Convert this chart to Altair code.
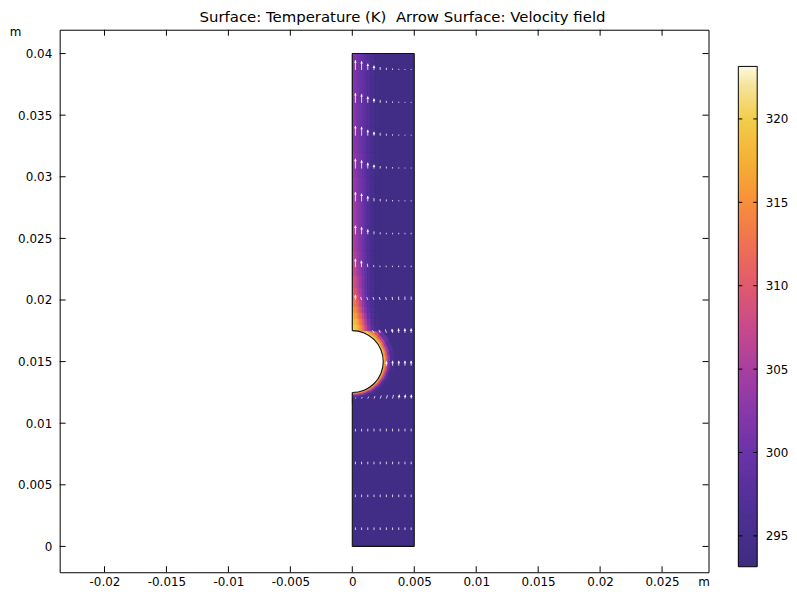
import math
import altair as alt
import numpy as np
import pandas as pd

title_text = "Surface: Temperature (K)\u00a0 Arrow Surface: Velocity field"

# ---------------- axes ----------------
x_ticks = [-0.02, -0.015, -0.01, -0.005, 0, 0.005, 0.01, 0.015, 0.02, 0.025]
y_ticks = [0, 0.005, 0.01, 0.015, 0.02, 0.025, 0.03, 0.035, 0.04]
cb_ticks = [295, 300, 305, 310, 315, 320]
x_domain = [-0.023617, 0.028749]
y_domain = [-0.0020968, 0.041935]

# ---------------- geometry (m) ----------------
channel_width = 0.005
channel_height = 0.04
cyl_center_y = 0.015
cyl_radius = 0.0025

# ---------------- temperatures (K) ----------------
T_min = 293.15
T_max = 323.15
T_bulk = 294.0

color_stops = [293.15, 295, 297.5, 300, 302.5, 305, 307.5, 310, 312.5, 315, 317.5, 320, 322, 323.15]
color_hex = ['#3d2c80', '#462f8c', '#55309b', '#6b33a8', '#8838aa', '#a93f9f', '#c84a8a',
             '#e05a6e', '#ef7152', '#f78f3a', '#f5b135', '#f2cd4c', '#f5e49a', '#fdf8df']

# plume above the cylinder: cell edges and temperatures (rows bottom -> top)
plume_x_edges = [0, 0.00015, 0.0003, 0.00045, 0.0006, 0.0008, 0.001, 0.0012, 0.0015, 0.0018, 0.0022]
plume_y_edges = [0.0175, 0.018, 0.0185, 0.019, 0.0195, 0.02, 0.0205, 0.021, 0.022, 0.023, 0.024,
                 0.026, 0.028, 0.030, 0.032, 0.034, 0.036, 0.038, 0.040]
plume_T = [
    [320.5, 320.0, 319.0, 317.5, 315.0, 311.5, 307.5, 302.5, 298.0, 295.0],
    [319.5, 318.5, 317.5, 315.5, 313.0, 309.5, 305.5, 301.0, 297.0, 294.6],
    [318.0, 317.0, 315.5, 313.5, 311.0, 307.5, 303.5, 299.5, 296.3, 294.4],
    [316.0, 315.0, 313.5, 311.5, 308.5, 305.0, 301.5, 298.5, 295.8, 294.2],
    [314.0, 313.0, 311.5, 309.5, 306.5, 303.5, 300.5, 298.0, 295.5, 294.1],
    [312.5, 311.5, 310.0, 308.0, 305.5, 302.5, 300.0, 297.5, 295.3, 294.0],
    [311.0, 310.0, 308.5, 306.5, 304.5, 302.0, 299.5, 297.2, 295.2, 294.0],
    [309.5, 308.5, 307.0, 305.5, 303.5, 301.5, 299.2, 297.0, 295.1, 294.0],
    [308.0, 307.0, 305.5, 304.3, 302.8, 301.0, 299.0, 296.8, 295.0, 294.0],
    [307.0, 306.0, 304.8, 303.6, 302.3, 300.7, 298.8, 296.7, 295.0, 294.0],
    [306.0, 305.0, 304.0, 303.0, 301.8, 300.4, 298.6, 296.6, 295.0, 294.0],
    [305.0, 304.2, 303.3, 302.4, 301.3, 300.1, 298.5, 296.6, 295.0, 294.0],
    [304.2, 303.5, 302.7, 301.9, 300.9, 299.8, 298.4, 296.6, 295.1, 294.0],
    [303.6, 303.0, 302.3, 301.5, 300.6, 299.6, 298.3, 296.7, 295.2, 294.1],
    [303.1, 302.5, 301.9, 301.2, 300.4, 299.4, 298.2, 296.7, 295.3, 294.1],
    [302.7, 302.2, 301.6, 300.9, 300.2, 299.3, 298.1, 296.8, 295.4, 294.2],
    [302.4, 301.9, 301.3, 300.7, 300.0, 299.1, 298.0, 296.8, 295.4, 294.2],
    [302.1, 301.6, 301.1, 300.5, 299.8, 299.0, 297.9, 296.8, 295.5, 294.3],
]

# thermal layer around the cylinder: angle sectors (deg from top, clockwise) x radial bands
ring_theta_edges = [0, 15, 30, 45, 60, 75, 90, 105, 120, 135, 150, 165, 180]
ring_band_edges = [0, 0.00008, 0.00016, 0.00026, 0.0004, 0.0006, 0.0009]
ring_T = [
    [321.5, 320.5, 319.5, 318.0, 315.0, 310.0],
    [321.5, 320.0, 318.5, 316.5, 312.5, 306.5],
    [321.0, 319.5, 317.5, 314.5, 309.5, 302.5],
    [321.0, 319.0, 316.5, 312.5, 306.5, 299.5],
    [321.0, 318.5, 315.5, 311.0, 304.0, 297.5],
    [321.0, 318.0, 314.5, 309.5, 302.0, 296.0],
    [320.5, 317.5, 313.5, 308.0, 300.5, 295.0],
    [320.5, 317.0, 312.5, 306.5, 299.0, 294.5],
    [320.0, 316.5, 311.0, 304.5, 297.5, 294.2],
    [320.0, 315.5, 309.5, 302.5, 296.5, 294.0],
    [319.5, 314.5, 307.5, 300.5, 295.5, 294.0],
    [319.0, 313.5, 306.0, 299.0, 295.0, 294.0],
]

# velocity arrows (grid points, mm/s); rows bottom -> top
arrow_x = [0.00025, 0.00075, 0.00125, 0.00175, 0.00225, 0.00275, 0.00325, 0.00375, 0.00425, 0.00475]
arrow_y = [0.001333, 0.004, 0.006667, 0.009333, 0.012, 0.014667, 0.017333, 0.02,
           0.022667, 0.025333, 0.028, 0.030667, 0.033333, 0.036, 0.038667]
arrow_vy = [
    [2.6, 2.6, 2.6, 2.6, 2.6, 2.6, 2.6, 2.6, 2.6, 2.6],
    [2.6, 2.6, 2.6, 2.6, 2.6, 2.6, 2.6, 2.6, 2.6, 2.6],
    [2.6, 2.6, 2.6, 2.6, 2.6, 2.6, 2.6, 2.6, 2.6, 2.6],
    [2.5, 2.6, 2.7, 2.8, 2.8, 2.8, 2.8, 2.8, 2.8, 2.8],
    [1.0, 1.5, 2.0, 2.5, 3.0, 3.5, 3.8, 4.0, 4.0, 4.0],
    [0.0, 0.0, 0.0, 0.0, 0.0, 4.5, 5.0, 5.0, 5.0, 5.0],
    [0.0, 0.0, 1.5, 2.5, 3.0, 3.5, 4.0, 4.5, 4.5, 4.5],
    [5.0, 3.0, 3.0, 3.0, 3.0, 3.0, 3.2, 3.4, 3.5, 3.5],
    [8.5, 6.5, 3.5, 2.0, 1.5, 1.5, 1.5, 1.5, 1.5, 1.5],
    [9.0, 7.5, 5.0, 3.0, 2.0, 1.5, 1.5, 1.5, 1.5, 1.5],
    [9.5, 8.0, 5.5, 3.5, 2.5, 2.0, 1.5, 1.2, 1.2, 1.2],
    [10.0, 8.5, 6.0, 4.0, 2.5, 2.0, 1.5, 1.2, 1.0, 1.0],
    [10.0, 9.0, 6.0, 4.0, 3.0, 2.0, 1.5, 1.2, 1.0, 1.0],
    [10.0, 9.0, 6.5, 4.5, 3.0, 2.0, 1.5, 1.2, 1.0, 1.0],
    [10.0, 9.0, 6.5, 4.5, 3.0, 2.2, 1.6, 1.2, 1.0, 1.0],
]
arrow_vx = [
    [0.0] * 10,
    [0.0] * 10,
    [0.0] * 10,
    [0.0] * 10,
    [0.3, 0.6, 0.9, 1.1, 1.2, 1.1, 0.9, 0.6, 0.4, 0.2],
    [0.0] * 10,
    [0.0, 0.0, -1.5, -1.5, -1.2, -1.0, -0.6, -0.3, -0.1, 0.0],
    [0.0, -1.0, -1.0, -1.0, -0.9, -0.7, -0.4, -0.2, 0.0, 0.0],
    [0.0, -0.3, -0.5, -0.5, -0.5, -0.4, -0.3, -0.2, -0.1, 0.0],
    [0.0] * 10,
    [0.0] * 10,
    [0.0] * 10,
    [0.0] * 10,
    [0.0] * 10,
    [0.0] * 10,
]
arrow_scale = 0.00008  # m of arrow per mm/s

# ---------------- layout ----------------
W, H = 653, 546
CBW = 19
ppm = W / (x_domain[1] - x_domain[0])
cb_domain = [292.82, 325.35]

# ---------------- data tables ----------------
plume_rows = []
for i in range(len(plume_y_edges) - 1):
    for j in range(len(plume_x_edges) - 1):
        plume_rows.append(dict(x0=plume_x_edges[j], x1=plume_x_edges[j + 1],
                               y0=plume_y_edges[i], y1=plume_y_edges[i + 1], T=plume_T[i][j]))
plume_df = pd.DataFrame(plume_rows)

ring_rows = []
for i in range(len(ring_theta_edges) - 1):
    for j in range(len(ring_band_edges) - 1):
        ring_rows.append(dict(cx=0.0, cy=cyl_center_y,
                              t0=math.radians(ring_theta_edges[i]), t1=math.radians(ring_theta_edges[i + 1]),
                              ri=cyl_radius + ring_band_edges[j], ro=cyl_radius + ring_band_edges[j + 1],
                              T=ring_T[i][j]))
ring_df = pd.DataFrame(ring_rows)

# hole left by the cylinder (full disc in white; the left half lies outside the fluid anyway)
cyl_df = pd.DataFrame([dict(cx=0.0, cy=cyl_center_y, t0=0.0, t1=2 * math.pi, ri=0.0, ro=cyl_radius)])
edge_half = 0.55 / ppm
outline_df = pd.DataFrame([dict(cx=0.0, cy=cyl_center_y, t0=0.0, t1=math.pi,
                                ri=cyl_radius - edge_half, ro=cyl_radius + edge_half)])

bg_df = pd.DataFrame([dict(x0=0.0, x1=channel_width, y0=0.0, y1=channel_height, T=T_bulk)])

bounds_df = pd.DataFrame([
    dict(x0=0.0, y0=0.0, x1=channel_width, y1=0.0),
    dict(x0=channel_width, y0=0.0, x1=channel_width, y1=channel_height),
    dict(x0=0.0, y0=channel_height, x1=channel_width, y1=channel_height),
    dict(x0=0.0, y0=0.0, x1=0.0, y1=cyl_center_y - cyl_radius),
    dict(x0=0.0, y0=cyl_center_y + cyl_radius, x1=0.0, y1=channel_height),
])

arrow_rows = []
head_rows = []
for i, yy in enumerate(arrow_y):
    for j, xx in enumerate(arrow_x):
        vx, vy = arrow_vx[i][j], arrow_vy[i][j]
        L = math.hypot(vx, vy)
        if L == 0:
            continue
        xe, ye = xx + vx * arrow_scale, yy + vy * arrow_scale
        arrow_rows.append(dict(x=xx, y=yy, xe=xe, ye=ye))
        if L >= 4:
            back = 1.3 / ppm
            ang = (math.degrees(math.atan2(vx, vy)) + 360) % 360
            head_rows.append(dict(x=xe - vx / L * back, y=ye - vy / L * back, ang=ang))
arrow_df = pd.DataFrame(arrow_rows)
head_df = pd.DataFrame(head_rows)

# ---------------- scales / axes ----------------
temp_scale = alt.Scale(domain=color_stops, range=color_hex, interpolate='rgb')
xs = alt.Scale(domain=x_domain, nice=False, zero=False)
ys = alt.Scale(domain=y_domain, nice=False, zero=False)
rs = alt.Scale(type='linear', domain=[0, 0.004], range=[0, 0.004 * ppm], zero=True)

x_axis = alt.Axis(values=x_ticks, labelExpr="toString(datum.value)", ticks=False, domain=False,
                  labelPadding=4, labelOverlap=False, grid=False, title='m',
                  titleX=W - 5, titleY=4, titleAlign='center', titleBaseline='top')
y_axis = alt.Axis(values=y_ticks, labelExpr="toString(datum.value)", ticks=False, domain=False,
                  labelPadding=8, labelOverlap=False, grid=False, title='m', titleAngle=0,
                  titleX=-45, titleY=-3, titleAlign='center', titleBaseline='top')


def X(f):
    return alt.X(f, scale=xs, axis=x_axis)


def Y(f):
    return alt.Y(f, scale=ys, axis=y_axis)


bg = alt.Chart(bg_df).mark_rect().encode(
    x=X('x0:Q'), x2='x1', y=Y('y0:Q'), y2='y1',
    color=alt.Color('T:Q', scale=temp_scale, legend=None),
)

ring = alt.Chart(ring_df).mark_arc(strokeWidth=0.6).encode(
    x=X('cx:Q'), y=Y('cy:Q'),
    theta=alt.Theta('t0:Q', scale=None, stack=False),
    theta2='t1',
    radius=alt.Radius('ro:Q', scale=rs),
    radius2='ri',
    color=alt.Color('T:Q', scale=temp_scale, legend=None),
    stroke=alt.Stroke('T:Q', scale=temp_scale, legend=None),
)

plume = alt.Chart(plume_df).mark_rect(strokeWidth=0.6).encode(
    x=X('x0:Q'), x2='x1', y=Y('y0:Q'), y2='y1',
    color=alt.Color('T:Q', scale=temp_scale, legend=None),
    stroke=alt.Stroke('T:Q', scale=temp_scale, legend=None),
)

cyl = alt.Chart(cyl_df).mark_arc(color='white').encode(
    x=X('cx:Q'), y=Y('cy:Q'),
    theta=alt.Theta('t0:Q', scale=None, stack=False),
    theta2='t1',
    radius=alt.Radius('ro:Q', scale=rs),
    radius2='ri',
)

outline = alt.Chart(outline_df).mark_arc(color='#111111').encode(
    x=X('cx:Q'), y=Y('cy:Q'),
    theta=alt.Theta('t0:Q', scale=None, stack=False),
    theta2='t1',
    radius=alt.Radius('ro:Q', scale=rs),
    radius2='ri',
)

bounds = alt.Chart(bounds_df).mark_rule(color='#111111', strokeWidth=1.1).encode(
    x=X('x0:Q'), y=Y('y0:Q'), x2='x1', y2='y1',
)

arrows = alt.Chart(arrow_df).mark_rule(color='white', strokeWidth=1, opacity=0.8).encode(
    x=X('x:Q'), y=Y('y:Q'), x2='xe', y2='ye',
)

heads = alt.Chart(head_df).mark_point(shape='triangle-up', filled=True, color='white',
                                      size=8, opacity=0.9).encode(
    x=X('x:Q'), y=Y('y:Q'),
    angle=alt.Angle('ang:Q', scale=None),
)

xt_df = pd.DataFrame({'v': x_ticks})
yt_df = pd.DataFrame({'v': y_ticks})
tick_top = alt.Chart(xt_df).mark_rule(color='black').encode(
    x=X('v:Q'), y=alt.value(0), y2=alt.value(6))
tick_bottom = alt.Chart(xt_df).mark_rule(color='black').encode(
    x=X('v:Q'), y=alt.value(H), y2=alt.value(H - 6))
tick_left = alt.Chart(yt_df).mark_rule(color='black').encode(
    y=Y('v:Q'), x=alt.value(0), x2=alt.value(6))
tick_right = alt.Chart(yt_df).mark_rule(color='black').encode(
    y=Y('v:Q'), x=alt.value(W), x2=alt.value(W - 6))

main = alt.layer(bg, ring, plume, cyl, outline, bounds, arrows, heads,
                 tick_top, tick_bottom, tick_left, tick_right).properties(
    width=W, height=H, view=alt.ViewBackground(stroke='black', strokeWidth=1))

# ---------------- colour bar ----------------
cb_edges = np.linspace(T_min, T_max, 201)
cb_overlap = 0.06
cb_df = pd.DataFrame({'t0': cb_edges[:-1],
                      't1': np.minimum(cb_edges[1:] + cb_overlap, T_max),
                      'T': (cb_edges[:-1] + cb_edges[1:]) / 2})
cbs = alt.Scale(domain=cb_domain, nice=False, zero=False)
cb_axis = alt.Axis(orient='right', values=cb_ticks, ticks=False, domain=False,
                   labelPadding=8, grid=False, title=None)


def CY(f):
    return alt.Y(f, scale=cbs, axis=cb_axis)


cb_rect = alt.Chart(cb_df).mark_rect().encode(
    y=CY('t0:Q'), y2='t1',
    x=alt.value(0), x2=alt.value(CBW),
    color=alt.Color('T:Q', scale=temp_scale, legend=None),
)
cb_border = alt.Chart(pd.DataFrame({'a': [T_min], 'b': [T_max]})).mark_rect(
    filled=False, stroke='black', strokeWidth=1).encode(
    y=CY('a:Q'), y2='b', x=alt.value(0), x2=alt.value(CBW))
cbt_df = pd.DataFrame({'v': cb_ticks})
cb_tick_l = alt.Chart(cbt_df).mark_rule(color='black').encode(
    y=CY('v:Q'), x=alt.value(0), x2=alt.value(4))
cb_tick_r = alt.Chart(cbt_df).mark_rule(color='black').encode(
    y=CY('v:Q'), x=alt.value(CBW - 4), x2=alt.value(CBW))
colorbar = alt.layer(cb_rect, cb_border, cb_tick_l, cb_tick_r).properties(
    width=CBW, height=H, view=alt.ViewBackground(stroke='transparent'))

chart = alt.hconcat(main, colorbar, spacing=27).properties(
    padding=0,
    title=alt.TitleParams(title_text, anchor='middle', fontSize=15, font='DejaVu Sans',
                          fontWeight='normal', color='black', offset=0, dx=4),
).configure_axis(
    labelFont='DejaVu Sans', labelFontSize=12, labelColor='black',
    titleFont='DejaVu Sans', titleFontSize=12, titleFontWeight='normal', titleColor='black',
).configure_view(stroke='transparent').resolve_scale(color='shared')

chart.save("out.html", embed_options={"renderer": "svg", "actions": False})
